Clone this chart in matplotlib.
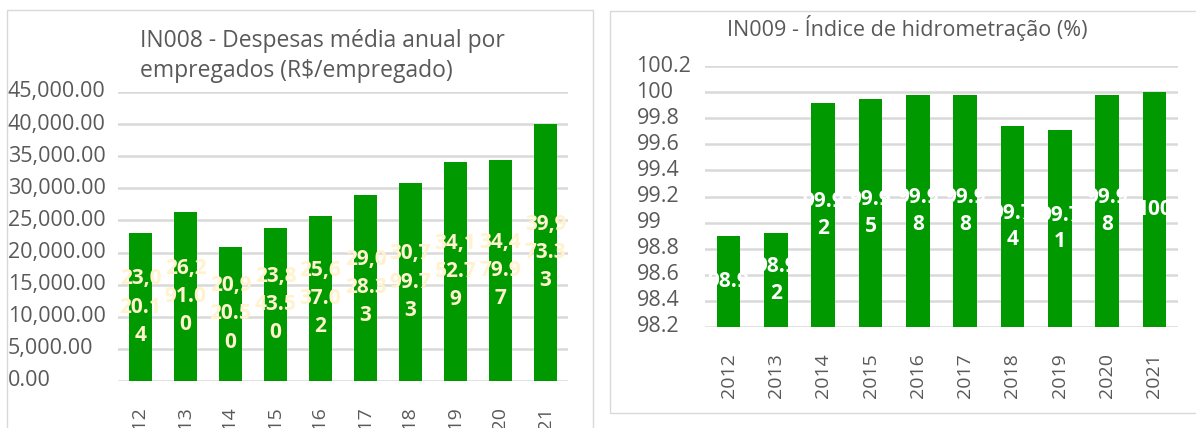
import matplotlib
matplotlib.use("Agg")
import matplotlib.pyplot as plt
from matplotlib.patches import Rectangle

years = ["2012", "2013", "2014", "2015", "2016", "2017", "2018", "2019", "2020", "2021"]
in008 = [23020.14, 26291.00, 20920.50, 23843.50, 25637.02,
         29028.33, 30799.73, 34152.79, 34479.97, 39973.33]
in009 = [98.9, 98.92, 99.92, 99.95, 99.98, 99.98, 99.74, 99.71, 99.98, 100]
in008_ticks = [0, 5000, 10000, 15000, 20000, 25000, 30000, 35000, 40000, 45000]
in009_ticks = [98.2, 98.4, 98.6, 98.8, 99.0, 99.2, 99.4, 99.6, 99.8, 100.0, 100.2]

GREEN, CREAM, GRID, TXT = "#009900", "#FFF2CC", "#D9D9D9", "#595959"
plt.rcParams.update({"font.family": ["Open Sans", "DejaVu Sans"]})

W, H = 1196, 428


def px(x0, y0, x1, y1):
    # pixel box (top-left origin) -> figure fraction rect
    return [x0 / W, 1 - y1 / H, (x1 - x0) / W, (y1 - y0) / H]


def chunk(s, n=4):
    return "\n".join(s[i:i + n] for i in range(0, len(s), n))


def style(ax, ticks, fmt, lab_x):
    ax.set_yticks(ticks)
    ax.set_yticklabels([])
    for t in ticks:
        ax.text(lab_x, t, fmt(t), transform=ax.get_yaxis_transform(),
                ha="left", va="center", fontsize=15.5, color=TXT, clip_on=False)
    ax.yaxis.grid(True, color=GRID, linewidth=1.8)
    ax.set_axisbelow(True)
    ax.tick_params(length=0)
    for s in ax.spines.values():
        s.set_visible(False)
    ax.set_xlim(-0.5, len(years) - 0.5)
    ax.set_xticks(range(len(years)))
    ax.set_xticklabels(years, rotation=90, fontsize=14, color=TXT)
    ax.tick_params(axis="x", pad=19)


def fmt008(v):
    return f"{v:,.2f}"


def fmt009(v):
    s = f"{v:.1f}"
    return s[:-2] if s.endswith(".0") else s


fig = plt.figure(figsize=(W / 100, H / 100), dpi=100)

# chart frames
fig.patches.append(Rectangle((7 / W, 1 - 440 / H), 586 / W, 430 / H, transform=fig.transFigure,
                             fill=False, edgecolor=GRID, linewidth=1))
fig.patches.append(Rectangle((610 / W, 1 - 413 / H), 600 / W, 402 / H, transform=fig.transFigure,
                             fill=False, edgecolor=GRID, linewidth=1))

# IN008
ax1 = fig.add_axes(px(118, 92, 568, 381))
ax1.bar(range(len(years)), in008, width=0.5, color=GREEN)
ax1.set_ylim(0, 45000)
style(ax1, in008_ticks, fmt008, -0.245)
for i, v in enumerate(in008):
    ax1.text(i, v / 2, chunk(f"{v:,.2f}"), ha="center", va="center", fontsize=15,
             fontweight="bold", color=CREAM, linespacing=1.45)
fig.text(140 / W, 1 - 56 / H, "IN008 - Despesas média anual por\nempregados (R$/empregado)",
         ha="left", va="center", fontsize=16.5, color=TXT, linespacing=1.3)

# IN009
ax2 = fig.add_axes(px(705, 66, 1178, 327))
ax2.bar(range(len(years)), in009, width=0.5, color=GREEN)
ax2.set_ylim(98.2, 100.2)
style(ax2, in009_ticks, fmt009, -0.145)
for i, v in enumerate(in009):
    ax2.text(i, (98.2 + v) / 2, chunk(fmt009(v) if v == 100 else f"{v:g}"), ha="center",
             va="center", fontsize=15, fontweight="bold", color="white", linespacing=1.35)
fig.text(907 / W, 1 - 28 / H, "IN009 - Índice de hidrometração (%)",
         ha="center", va="center", fontsize=15.5, color=TXT)

fig.savefig("out.png", dpi=100)
